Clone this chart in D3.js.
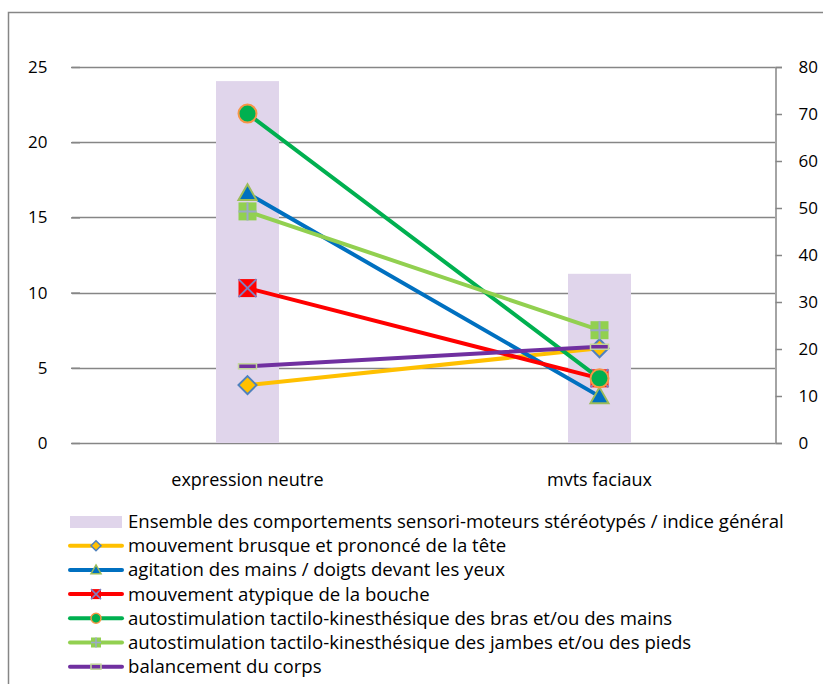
<!DOCTYPE html>
<html><head><meta charset="utf-8">
<script src="https://cdn.jsdelivr.net/npm/d3@7"></script>
<style>
body{margin:0;background:#fff;}
text{font-family:"Open Sans",sans-serif;fill:#000;}
</style></head>
<body>
<svg id="c" width="823" height="684"></svg>
<script>
const categories = ["expression neutre", "mvts faciaux"];
const barName = "Ensemble des comportements sensori-moteurs stéréotypés / indice général";
const barValues = [77, 36];
const seriesNames = [
  "mouvement brusque et prononcé de la tête",
  "agitation des mains / doigts devant les yeux",
  "mouvement atypique de la bouche",
  "autostimulation tactilo-kinesthésique des bras et/ou des mains",
  "autostimulation tactilo-kinesthésique des jambes et/ou des pieds",
  "balancement du corps"
];
const seriesValues = [
  [3.85, 6.3],
  [16.6, 3.1],
  [10.3, 4.3],
  [21.9, 4.3],
  [15.4, 7.5],
  [5.1, 6.4]
];
const leftTicks = [0, 5, 10, 15, 20, 25];
const rightTicks = [0, 10, 20, 30, 40, 50, 60, 70, 80];

const styles = [
  {line:"#FFC000", marker:"diamond", fill:"#FFC000", stroke:"#4F81BD"},
  {line:"#0070C0", marker:"triangle", fill:"#0070C0", stroke:"#9BBB59"},
  {line:"#FF0000", marker:"x", fill:"#FF0000", stroke:"#7F7FBF"},
  {line:"#00B050", marker:"circle", fill:"#00B050", stroke:"#F79646"},
  {line:"#92D050", marker:"plus", fill:"#92D050", stroke:"#9BA8C8"},
  {line:"#7030A0", marker:"dash", fill:"#7030A0", stroke:"#C4D79B"}
];

const FT = "17px", FC = "18px", FL = "18.6px";
const svg = d3.select("#c");
// outer frame
svg.append("rect").attr("x",8.5).attr("y",12.5).attr("width",830).attr("height",700)
  .attr("fill","none").attr("stroke","#868686").attr("stroke-width",1.5);

const x0 = 71.5, x1 = 775.5;
const x = d3.scaleBand().domain(categories).range([x0, x1]);
const yL = d3.scaleLinear().domain([0,25]).range([443,67]);
const yR = d3.scaleLinear().domain([0,80]).range([443,67]);

// gridlines
const g = svg.append("g");
g.selectAll("line.grid").data(leftTicks).join("line")
  .attr("x1",72).attr("x2",775).attr("y1",d=>Math.round(yL(d))+0.5).attr("y2",d=>Math.round(yL(d))+0.5)
  .attr("stroke","#868686").attr("stroke-width",1.5);

// left axis labels
const la = svg.append("g").attr("transform","translate(80,0)")
  .call(d3.axisLeft(yL).tickValues(leftTicks).tickSize(9).tickPadding(23.5));
la.select(".domain").remove();
la.selectAll(".tick line").attr("stroke","#868686").attr("stroke-width",1.5);
la.selectAll("text").style("font-size",FT).attr("fill","#000").attr("font-family","Open Sans");

// right axis
const ra = svg.append("g").attr("transform","translate(775.5,0)")
  .call(d3.axisRight(yR).tickValues(rightTicks).tickSize(6.5).tickPadding(16.5));
ra.select(".domain").attr("stroke","#868686").attr("stroke-width",1.5);
ra.selectAll(".tick line").attr("stroke","#868686").attr("stroke-width",1.5);
ra.selectAll("text").style("font-size",FT).attr("fill","#000").attr("font-family","Open Sans");

// category labels
svg.append("g").selectAll("text").data(categories).join("text")
  .attr("x",d=>x(d)+x.bandwidth()/2).attr("y",480).attr("dy","0.35em").attr("text-anchor","middle")
  .style("font-size",FC).text(d=>d);

// bars
const bw = 63;
svg.append("g").selectAll("rect").data(barValues).join("rect")
  .attr("x",(d,i)=>x(categories[i])+x.bandwidth()/2-bw/2)
  .attr("width",bw)
  .attr("y",d=>yR(d)).attr("height",d=>yR(0)-yR(d))
  .attr("fill","#E0D5EB");

function drawMarker(sel, st, cx, cy, s){
  const h = s/2;
  const sw = s>12?2:1.5;
  if(st.marker==="diamond"){
    sel.append("path").attr("d",`M${cx},${cy-h}L${cx+h},${cy}L${cx},${cy+h}L${cx-h},${cy}Z`)
      .attr("fill",st.fill).attr("stroke",st.stroke).attr("stroke-width",sw);
  } else if(st.marker==="triangle"){
    sel.append("path").attr("d",`M${cx},${cy-h}L${cx+h},${cy+h*0.75}L${cx-h},${cy+h*0.75}Z`)
      .attr("fill",st.fill).attr("stroke",st.stroke).attr("stroke-width",sw);
  } else if(st.marker==="x"){
    sel.append("rect").attr("x",cx-h).attr("y",cy-h).attr("width",s).attr("height",s).attr("fill",st.fill);
    sel.append("path").attr("d",`M${cx-h},${cy-h}L${cx+h},${cy+h}M${cx+h},${cy-h}L${cx-h},${cy+h}`)
      .attr("stroke",st.stroke).attr("stroke-width",sw);
  } else if(st.marker==="circle"){
    sel.append("circle").attr("cx",cx).attr("cy",cy).attr("r",h)
      .attr("fill",st.fill).attr("stroke",st.stroke).attr("stroke-width",sw);
  } else if(st.marker==="plus"){
    sel.append("rect").attr("x",cx-h).attr("y",cy-h).attr("width",s).attr("height",s).attr("fill",st.fill);
    sel.append("path").attr("d",`M${cx-h},${cy}L${cx+h},${cy}M${cx},${cy-h}L${cx},${cy+h}`)
      .attr("stroke",st.stroke).attr("stroke-width",sw);
  } else if(st.marker==="dash"){
    sel.append("rect").attr("x",cx-h).attr("y",cy-2.5).attr("width",s).attr("height",5)
      .attr("fill",st.fill).attr("stroke",st.stroke).attr("stroke-width",1.5);
  }
}

// lines
const line = d3.line().x((d,i)=>x(categories[i])+x.bandwidth()/2).y(d=>yL(d));
seriesValues.forEach((vals,si)=>{
  const st = styles[si];
  const gg = svg.append("g");
  gg.append("path").datum(vals).attr("d",line).attr("fill","none")
    .attr("stroke",st.line).attr("stroke-width",4).attr("stroke-linecap","round");
  vals.forEach((v,i)=>{
    drawMarker(gg, st, x(categories[i])+x.bandwidth()/2, yL(v), 18);
  });
});

// legend
const lg = svg.append("g");
const lx = 70, lw = 52, ly0 = 521.5, dy = 24.2;
lg.append("rect").attr("x",lx).attr("y",ly0-5.5).attr("width",lw).attr("height",12).attr("fill","#E0D5EB");
lg.append("text").attr("x",128).attr("y",ly0).attr("dy","0.35em").style("font-size",FL).text(barName);
seriesNames.forEach((n,i)=>{
  const yy = ly0 + dy*(i+1);
  const st = styles[i];
  lg.append("line").attr("x1",lx).attr("x2",lx+lw).attr("y1",yy).attr("y2",yy)
    .attr("stroke",st.line).attr("stroke-width",4).attr("stroke-linecap","round");
  drawMarker(lg, st, lx+lw/2, yy, 10);
  lg.append("text").attr("x",128).attr("y",yy).attr("dy","0.35em").style("font-size",FL).text(n);
});
</script>
</body></html>
